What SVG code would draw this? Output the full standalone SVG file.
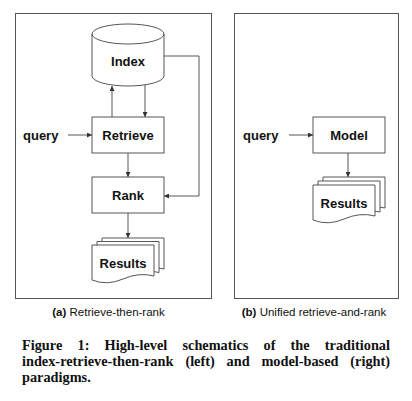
<svg xmlns="http://www.w3.org/2000/svg" width="412" height="401" viewBox="0 0 412 401">
<style>
.frame{fill:none;stroke:#555;stroke-width:1}
.box{fill:#fff;stroke:#444;stroke-width:0.9}
.ln{fill:none;stroke:#444;stroke-width:0.9}
.lbl{font-family:"Liberation Sans",Arial,sans-serif;font-weight:bold;font-size:13px;fill:#111;text-anchor:middle}
.q{font-family:"Liberation Sans",Arial,sans-serif;font-weight:bold;font-size:13px;fill:#111}
.sub{font-family:"Liberation Sans",Arial,sans-serif;font-size:11.5px;fill:#111;text-anchor:middle}
.cap{font-family:"Liberation Serif","Times New Roman",serif;font-weight:bold;font-size:14.3px;fill:#111}
</style>
<defs>
<marker id="ah" viewBox="0 0 6 6" refX="6" refY="3" markerWidth="5" markerHeight="5" orient="auto" markerUnits="userSpaceOnUse">
<path d="M0,0 L6,3 L0,6 Z" fill="#333"/>
</marker>
</defs>
<rect width="412" height="401" fill="#fff"/>
<g id="panel-a">
<rect class="frame" x="15.5" y="13.5" width="196" height="285"/>
</g>
<g id="panel-b">
<rect class="frame" x="234.5" y="13.5" width="164" height="285"/>
</g>
<g id="connectors">
<line class="ln" x1="112" y1="117" x2="112" y2="86" marker-end="url(#ah)"/>
<line class="ln" x1="145" y1="85" x2="145" y2="117" marker-end="url(#ah)"/>
<polyline class="ln" points="164,56 199,56 199,196 164,196" marker-end="url(#ah)"/>
<line class="ln" x1="68" y1="135" x2="92" y2="135" marker-end="url(#ah)"/>
<line class="ln" x1="128" y1="153" x2="128" y2="177" marker-end="url(#ah)"/>
<line class="ln" x1="128" y1="213" x2="128" y2="238" marker-end="url(#ah)"/>
<line class="ln" x1="289" y1="135" x2="313" y2="135" marker-end="url(#ah)"/>
<line class="ln" x1="348" y1="153" x2="348" y2="177" marker-end="url(#ah)"/>
</g>
<g id="index">
<path class="box" d="M92,34 A36,10 0 0 1 164,34 V76 A36,10 0 0 1 92,76 Z"/>
<path class="ln" d="M92,34 A36,10 0 0 0 164,34"/>
<text class="lbl" x="128" y="66">Index</text>
</g>
<g id="query-a">
<text class="q" x="23" y="140">query</text>
</g>
<g id="retrieve">
<rect class="box" x="92" y="117" width="72" height="36"/>
<text class="lbl" x="128" y="140">Retrieve</text>
</g>
<g id="rank">
<rect class="box" x="92" y="177" width="72" height="36"/>
<text class="lbl" x="128" y="200">Rank</text>
</g>
<g id="results-a">
<path class="box" d="M102,238 H164 V269 Q149,265 133,272 T102,273 Z"/>
<path class="box" d="M97,241.5 H159 V272.5 Q144,268.5 128,275.5 T97,276.5 Z"/>
<path class="box" d="M92,245 H154 V276 Q139,272 123,279 T92,280 Z"/>
<text class="lbl" x="123" y="268">Results</text>
</g>
<g id="query-b">
<text class="q" x="243" y="140">query</text>
</g>
<g id="model">
<rect class="box" x="313" y="117" width="72" height="36"/>
<text class="lbl" x="349" y="140">Model</text>
</g>
<g id="results-b">
<path class="box" d="M323,177 H385 V208 Q370,204 354,211 T323,212 Z"/>
<path class="box" d="M318,181 H380 V212 Q365,208 349,215 T318,216 Z"/>
<path class="box" d="M313,185 H375 V216 Q360,212 344,219 T313,220 Z"/>
<text class="lbl" x="344" y="208">Results</text>
</g>
<g id="captions">
<text class="sub" x="108.5" y="316"><tspan font-weight="bold">(a)</tspan> Retrieve-then-rank</text>
<text class="sub" x="314" y="316"><tspan font-weight="bold">(b)</tspan> Unified retrieve-and-rank</text>
<text class="cap" y="350"><tspan x="22">Figure</tspan><tspan x="77.6">1:</tspan><tspan x="104.6">High-level</tspan><tspan x="182.5">schematics</tspan><tspan x="263.5">of</tspan><tspan x="290.5">the</tspan><tspan x="390" text-anchor="end">traditional</tspan></text>
<text class="cap" y="366"><tspan x="22">index-retrieve-then-rank</tspan><tspan x="185.4">(left)</tspan><tspan x="226.6">and</tspan><tspan x="261.4">model-based</tspan><tspan x="390" text-anchor="end">(right)</tspan></text>
<text class="cap" x="22" y="382">paradigms.</text>
</g>
</svg>
